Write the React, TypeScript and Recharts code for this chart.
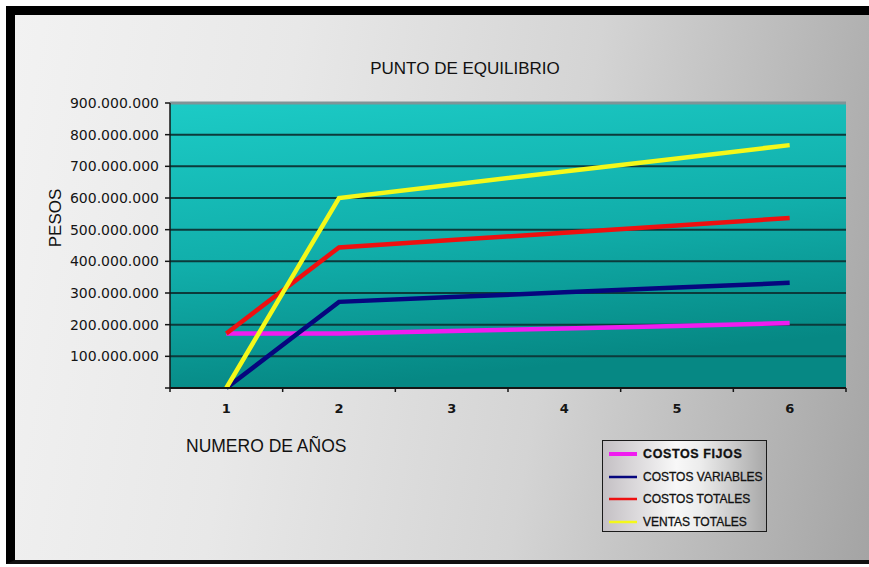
import { LineChart, Line, XAxis, YAxis, CartesianGrid, Legend, ReferenceLine } from "recharts";

// años del proyecto y valores en millones de pesos
const years = [1, 2, 3, 4, 5, 6];
const costosFijos = [172, 172, 180, 188, 196, 205];
const costosVariables = [0, 272, 287, 302, 317, 332];
const costosTotales = [172, 444, 467, 490, 513, 537];
const ventasTotales = [0, 600, 642, 684, 725, 767];

const yTicksMillions = [0, 100, 200, 300, 400, 500, 600, 700, 800, 900];

const SERIES = [
  { key: "fijos", label: "COSTOS FIJOS", color: "#f01cf0", values: costosFijos },
  { key: "variables", label: "COSTOS VARIABLES", color: "#06067e", values: costosVariables },
  { key: "totales", label: "COSTOS TOTALES", color: "#ee1010", values: costosTotales },
  { key: "ventas", label: "VENTAS TOTALES", color: "#f4f81a", values: ventasTotales },
];

const MILLION = 1000000;

const data = years.map((year, i) => {
  const row: Record<string, number> = { year };
  SERIES.forEach((s) => {
    row[s.key] = s.values[i] * MILLION;
  });
  return row;
});

const yTicks = yTicksMillions.map((m) => m * MILLION);
// labels sit on the years, tick marks sit between them
const xTicks = [...years.flatMap((y) => [y - 0.5, y]), years[years.length - 1] + 0.5];

const TICK_FONT = "'DejaVu Sans', sans-serif";
const TEXT_FONT = "'Liberation Sans', Arial, sans-serif";

function formatPesos(v: number) {
  if (v === 0) return "";
  return Math.round(v).toString().replace(/\B(?=(\d{3})+(?!\d))/g, ".");
}

function YearTick(props: any) {
  const { x, y, payload } = props;
  const v = payload.value as number;
  if (Number.isInteger(v)) {
    return (
      <text x={x} y={y + 21} textAnchor="middle" fontFamily={TICK_FONT} fontSize={13} fontWeight="bold" fill="#151515">
        {v}
      </text>
    );
  }
  return <line x1={x} x2={x} y1={y - 4} y2={y} stroke="#151515" strokeWidth={1.5} />;
}

function LegendBox(props: any) {
  const order = SERIES.map((s) => s.label);
  const items = [...(props.payload || [])].sort(
    (a: any, b: any) => order.indexOf(a.value) - order.indexOf(b.value)
  );
  return (
    <div
      style={{
        boxSizing: "border-box",
        width: 165,
        height: 92,
        border: "1.5px solid #1a1a1a",
        background: "linear-gradient(to right, #c4c0c4 0%, #f8f8f8 45%, #ececec 60%, #a8a8a8 100%)",
        paddingTop: 2,
      }}
    >
      {items.map((entry: any, i: number) => (
        <div key={entry.value} style={{ display: "flex", alignItems: "center", height: 22.5 }}>
          <svg width={40} height={10} style={{ flex: "none" }}>
            <line x1={6} x2={34} y1={5} y2={5} stroke={entry.color} strokeWidth={i === 0 ? 4 : 2.5} />
          </svg>
          <span
            style={{
              fontFamily: TEXT_FONT,
              fontSize: i === 0 ? 12.5 : 12,
              fontWeight: i === 0 ? "bold" : "normal",
              letterSpacing: i === 0 ? 0.6 : 0,
              color: "#111",
              whiteSpace: "nowrap",
              WebkitTextStroke: "0.3px #111",
            }}
          >
            {entry.value}
          </span>
        </div>
      ))}
    </div>
  );
}

export default function App() {
  return (
    <div style={{ position: "absolute", left: 0, top: 0, width: 869, height: 567, background: "#fff", overflow: "hidden" }}>
      {/* marco con fondo degradado */}
      <div
        style={{
          position: "absolute",
          left: 6,
          top: 6,
          width: 863,
          height: 558,
          boxSizing: "border-box",
          borderTop: "9px solid #000",
          borderLeft: "9px solid #000",
          borderBottom: "4px solid #111",
          background: "linear-gradient(100deg, #f2f2f2 0%, #e8e8e8 30%, #d4d4d4 62%, #a4a4a4 100%)",
        }}
      />

      <div style={{ position: "absolute", left: 0, top: 0 }}>
        <LineChart width={869} height={567} data={data} margin={{ top: 103, right: 23, left: 70, bottom: 149 }}>
          <defs>
            <linearGradient id="plotFill" x1="0" y1="0" x2="0.25" y2="1">
              <stop offset="0%" stopColor="#1ccbc6" />
              <stop offset="55%" stopColor="#11aeaa" />
              <stop offset="100%" stopColor="#068884" />
            </linearGradient>
          </defs>
          <CartesianGrid vertical={false} stroke="#0c3a3b" strokeWidth={2} fill="url(#plotFill)" fillOpacity={1} />
          <XAxis
            type="number"
            dataKey="year"
            domain={[0.5, 6.5]}
            ticks={xTicks}
            interval={0}
            tickLine={false}
            tickSize={4}
            tickMargin={0}
            tick={<YearTick />}
            axisLine={{ stroke: "#151515", strokeWidth: 2 }}
            height={30}
          />
          <YAxis
            domain={[0, 900 * MILLION]}
            ticks={yTicks}
            interval={0}
            width={100}
            tickSize={5}
            tickMargin={6}
            tickFormatter={formatPesos}
            tick={{ fontFamily: TICK_FONT, fontSize: 14, fill: "#151515" }}
            tickLine={{ stroke: "#151515", strokeWidth: 1.5 }}
            axisLine={{ stroke: "#151515", strokeWidth: 1.5 }}
          />
          <ReferenceLine y={900 * MILLION} stroke="#7f9497" strokeWidth={3} />
          {SERIES.map((s) => (
            <Line
              key={s.key}
              type="linear"
              dataKey={s.key}
              name={s.label}
              stroke={s.color}
              strokeWidth={4.5}
              dot={false}
              activeDot={false}
              legendType="plainline"
              isAnimationActive={false}
            />
          ))}
          <Legend
            layout="vertical"
            align="center"
            verticalAlign="middle"
            content={<LegendBox />}
            wrapperStyle={{ left: 602, top: 440, width: 165, height: 92 }}
          />
        </LineChart>
      </div>

      <div
        style={{
          position: "absolute",
          left: 465,
          top: 69,
          transform: "translate(-50%, -50%)",
          fontFamily: TEXT_FONT,
          fontSize: 17,
          color: "#111",
          whiteSpace: "nowrap",
        }}
      >
        PUNTO DE EQUILIBRIO
      </div>
      <div
        style={{
          position: "absolute",
          left: 56,
          top: 218,
          transform: "translate(-50%, -50%) rotate(-90deg)",
          fontFamily: TEXT_FONT,
          fontSize: 17,
          color: "#111",
          whiteSpace: "nowrap",
        }}
      >
        PESOS
      </div>
      <div
        style={{
          position: "absolute",
          left: 186,
          top: 446,
          transform: "translateY(-50%)",
          fontFamily: TEXT_FONT,
          fontSize: 17.5,
          color: "#111",
          whiteSpace: "nowrap",
        }}
      >
        NUMERO DE AÑOS
      </div>
    </div>
  );
}
